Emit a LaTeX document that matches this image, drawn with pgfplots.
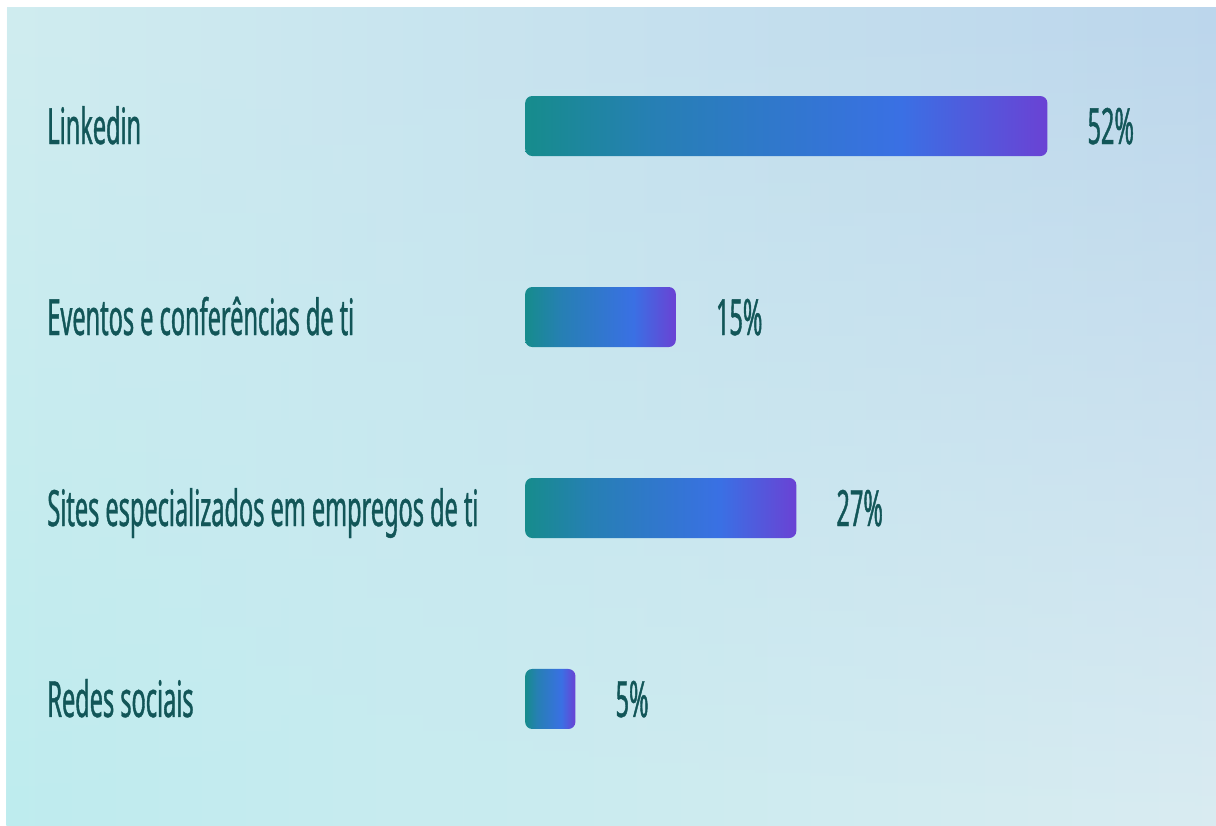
\documentclass[border=0pt]{standalone}
\usepackage{pgfplots}
\pgfplotsset{compat=1.18}
\usetikzlibrary{fadings}
\usepackage{fontspec}
\setmainfont[FakeStretch=0.47, FakeBold=0.8]{Noto Sans}
\definecolor{txt}{RGB}{18,86,88}
\definecolor{bgTL}{RGB}{208,236,240}
\definecolor{bgTR}{RGB}{188,214,236}
\definecolor{bgBL}{RGB}{190,236,238}
\definecolor{bgBR}{RGB}{218,236,242}
\definecolor{cTeal}{RGB}{22,140,140}
\definecolor{cBlue}{RGB}{58,112,228}
\definecolor{cPurp}{RGB}{106,66,212}
\pgfdeclarehorizontalshading{barshade}{100bp}{color(0bp)=(cTeal); color(25bp)=(cTeal); color(37bp)=(cTeal!55!cBlue); color(61bp)=(cBlue); color(75bp)=(cPurp); color(100bp)=(cPurp)}
\tikzfading[name=bgfade, top color=transparent!100, bottom color=transparent!0]
\begin{document}
\begin{tikzpicture}
\fill[white] (-5pt,-5pt) rectangle (1225pt,830pt);
\shade[left color=bgTL, right color=bgTR] (7pt,-5pt) rectangle (1225pt,818pt);
\shade[left color=bgBL, right color=bgBR, path fading=bgfade, fit fading=true] (7pt,-5pt) rectangle (1225pt,818pt);
\begin{axis}[
  at={(0pt,0pt)}, anchor=south west,
  scale only axis, width=1216pt, height=826pt,
  xmin=-52.3, xmax=68.8, ymin=-0.665, ymax=3.66,
  axis lines=none, clip=false,
  xtick=\empty, ytick=\empty,
  xbar, bar width=60pt,
  point meta=x,
  nodes near coords={\pgfmathprintnumber[assume math mode=true]{\pgfplotspointmeta}\%},
  every node near coord/.append style={anchor=base west, inner sep=0pt, xshift=40pt, yshift=-18pt, text=txt, font=\fontsize{50}{54}\selectfont},
  barsty/.style={draw=none, shading=barshade, shade, rounded corners=7pt, bar shift=0pt},
]
\addplot[barsty] coordinates {(52,3)};
\addplot[barsty] coordinates {(15,2)};
\addplot[barsty] coordinates {(27,1)};
\addplot[barsty] coordinates {(5,0)};
\node[anchor=base west, inner sep=0pt, text=txt, font=\fontsize{50}{54}\selectfont, yshift=-18pt] at (axis cs:-47.6,3) {Linkedin};
\node[anchor=base west, inner sep=0pt, text=txt, font=\fontsize{50}{54}\selectfont, yshift=-18pt] at (axis cs:-47.6,2) {Eventos e conferências de ti};
\node[anchor=base west, inner sep=0pt, text=txt, font=\fontsize{50}{54}\selectfont, yshift=-18pt] at (axis cs:-47.6,1) {Sites especializados em empregos de ti};
\node[anchor=base west, inner sep=0pt, text=txt, font=\fontsize{50}{54}\selectfont, yshift=-18pt] at (axis cs:-47.6,0) {Redes sociais};
\end{axis}
\pgfresetboundingbox
\path (0,0) rectangle (1216pt,826pt);
\end{tikzpicture}
\end{document}
